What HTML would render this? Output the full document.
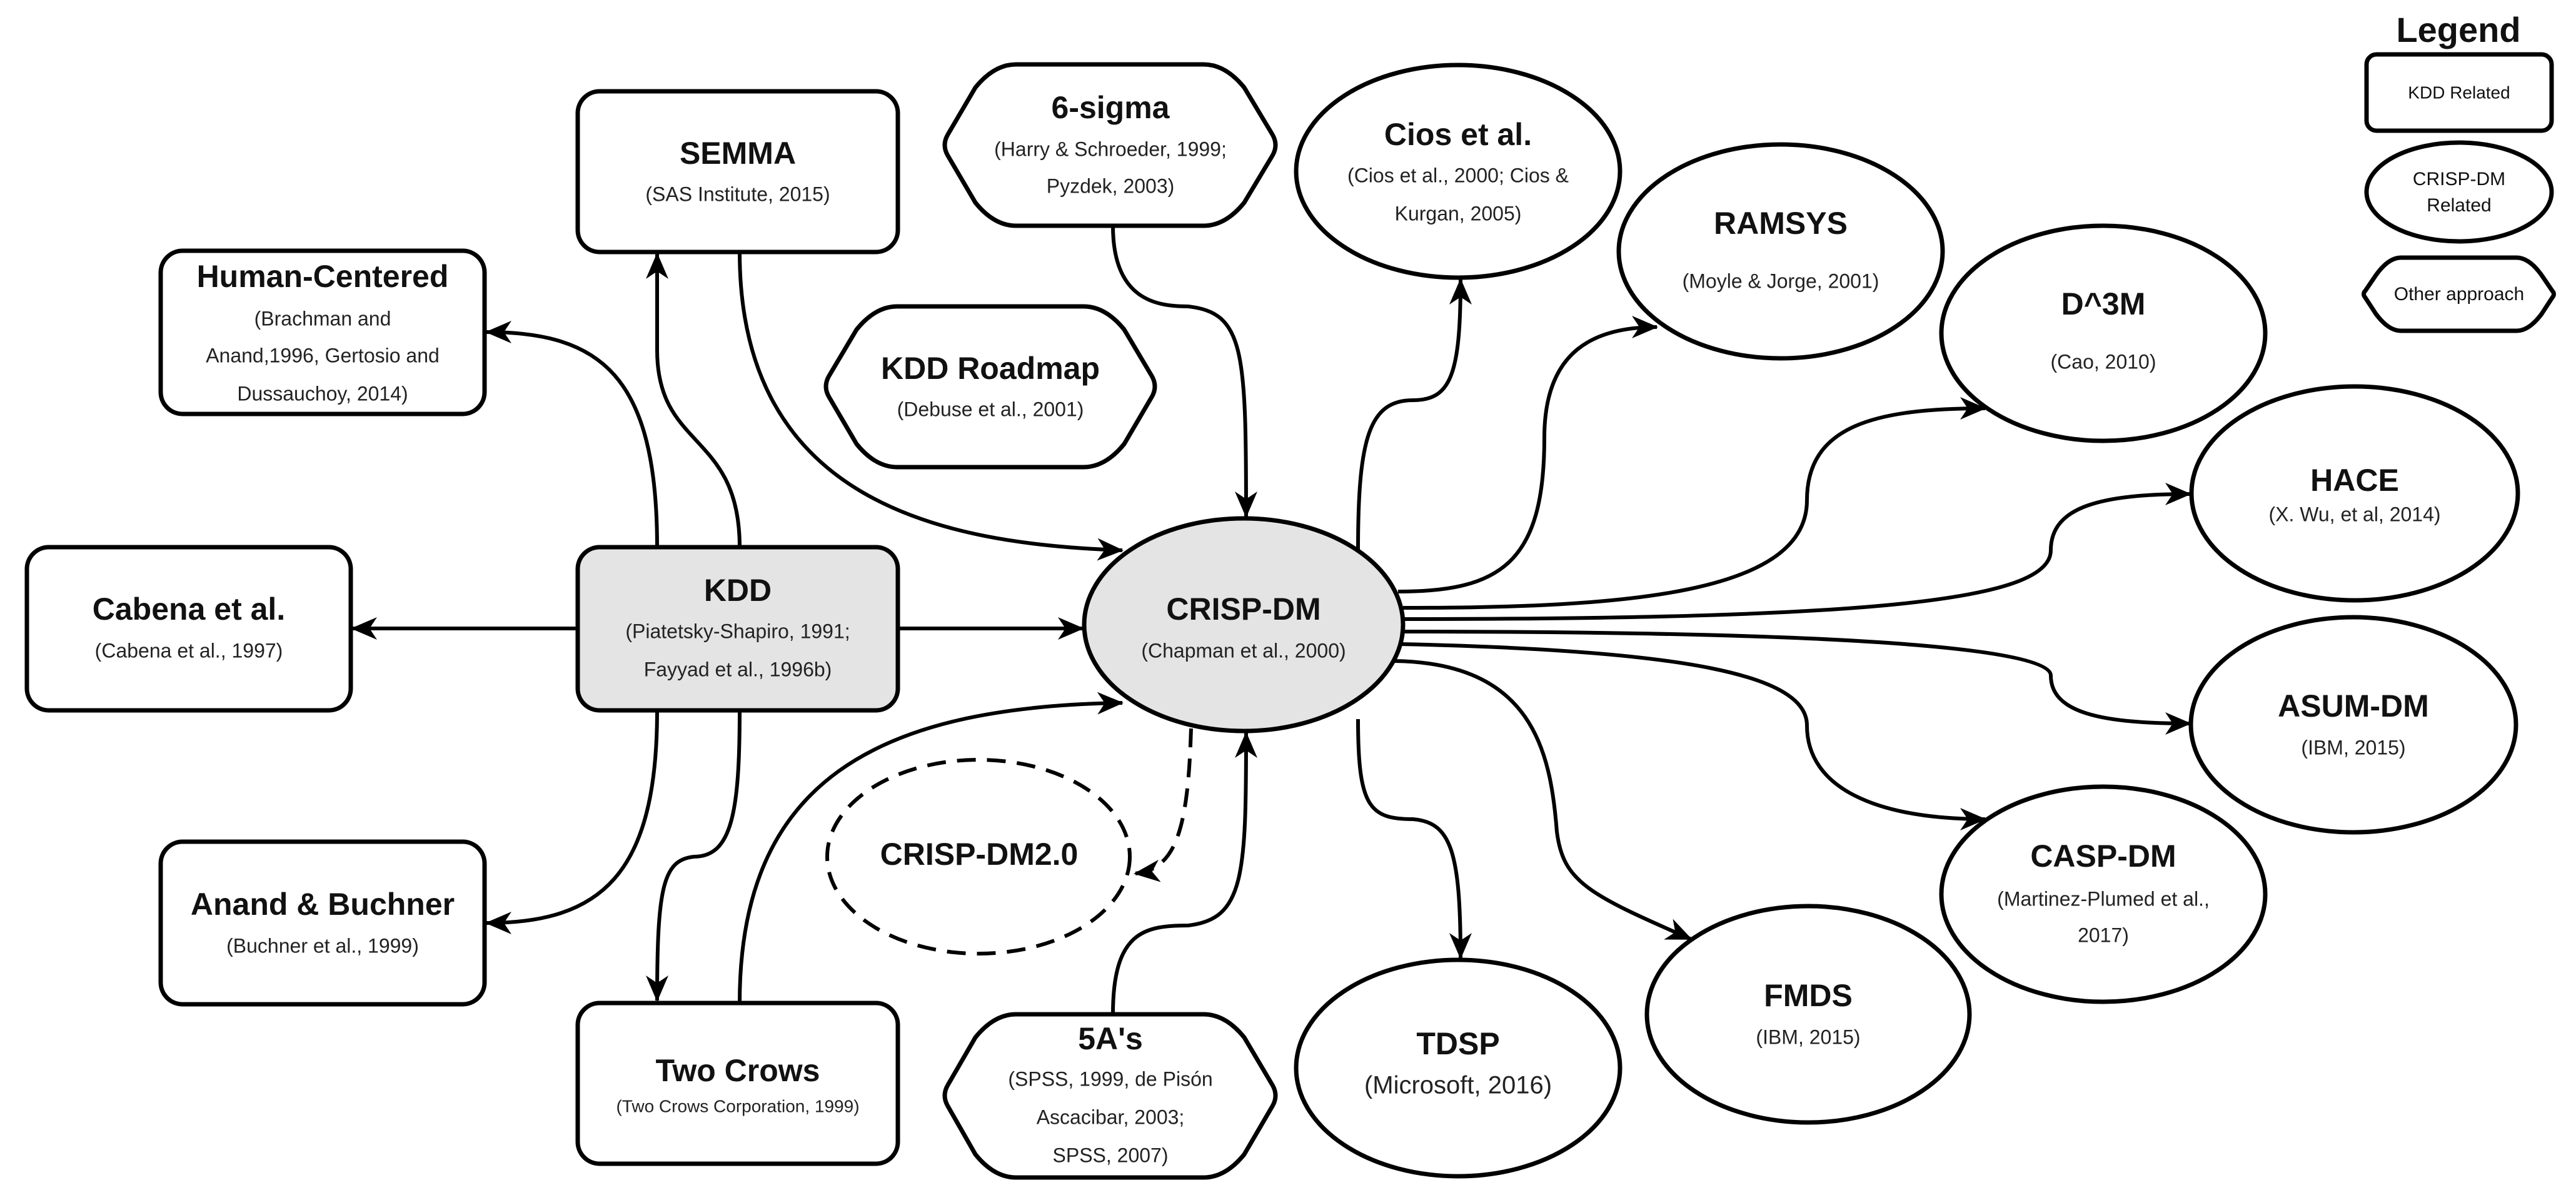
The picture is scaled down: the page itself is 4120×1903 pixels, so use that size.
<!DOCTYPE html>
<html><head><meta charset="utf-8"><style>
html,body{margin:0;padding:0;background:#fff;}
svg{display:block;}
text{font-family:"Liberation Sans",Arial,sans-serif;text-anchor:middle;dominant-baseline:middle;fill:#111;}
.t{font-weight:bold;font-size:50px;}
.s{font-size:32px;fill:#222;}
.n{fill:#fff;stroke:#000;stroke-width:7;}
.g{fill:#e4e4e4;stroke:#000;stroke-width:7;}
.e{fill:none;stroke:#000;stroke-width:6;}
</style></head><body>
<svg width="4120" height="1903" viewBox="0 0 4120 1903" xmlns="http://www.w3.org/2000/svg">
<defs>
<marker id="a" markerUnits="userSpaceOnUse" markerWidth="60" markerHeight="60" refX="40" refY="18" orient="auto">
<path d="M0,0 L42,18 L0,36 L12,18 z" fill="#000"/>
</marker>
</defs>

<g class="e" marker-end="url(#a)">
<path d="M1051,875 C1051,600 960,531 778,531"/>
<path d="M1183,875 C1183,690 1051,720 1051,560 L1051,406"/>
<path d="M1183,403 C1183,800 1500,870 1795,880"/>
<path d="M1780,361 C1780,480 1850,490 1900,490 C1990,500 1993,560 1993,826"/>
<path d="M924,1005 L563,1005"/>
<path d="M1436,1005 L1732,1005"/>
<path d="M1051,1136 C1051,1400 960,1476 778,1476"/>
<path d="M1183,1136 C1183,1300 1170,1370 1110,1370 C1060,1375 1051,1420 1051,1600"/>
<path d="M1183,1604 C1183,1250 1400,1130 1795,1124"/>
<path d="M1905,1165 C1900,1330 1880,1390 1815,1397" stroke-dasharray="30,18"/>
<path d="M1780,1622 C1780,1490 1830,1480 1900,1480 C1990,1470 1993,1400 1993,1172"/>
<path d="M2172,880 C2172,700 2190,640 2260,640 C2320,640 2336,600 2336,447"/>
<path d="M2236,946 C2400,946 2470,900 2470,700 C2470,560 2550,523 2650,523"/>
<path d="M2244,972 C2600,972 2890,950 2890,800 C2890,680 3000,653 3175,653"/>
<path d="M2244,990 C3000,990 3280,960 3280,880 C3280,810 3360,790 3503,790"/>
<path d="M2244,1010 C3000,1010 3280,1040 3280,1080 C3280,1140 3360,1157 3503,1157"/>
<path d="M2240,1030 C2700,1040 2890,1080 2890,1160 C2890,1260 3000,1310 3175,1310"/>
<path d="M2230,1057 C2450,1060 2480,1200 2490,1330 C2500,1410 2540,1430 2705,1502"/>
<path d="M2172,1150 C2172,1290 2190,1310 2260,1310 C2320,1315 2336,1360 2336,1532"/>
</g>

<rect class="n" x="924" y="146" width="512" height="257" rx="35"/>
<rect class="n" x="257" y="401" width="518" height="261" rx="35"/>
<rect class="n" x="43" y="875" width="518" height="261" rx="35"/>
<rect class="g" x="924" y="875" width="512" height="261" rx="35"/>
<rect class="n" x="257" y="1346" width="518" height="260" rx="35"/>
<rect class="n" x="924" y="1604" width="512" height="257" rx="35"/>

<path class="n" d="M1625,103 L1925,103 Q1960,103 1990,140 L2035,215 Q2045,232 2035,249 L1990,324 Q1960,361 1925,361 L1625,361 Q1590,361 1560,324 L1516,249 Q1506,232 1516,215 L1560,140 Q1590,103 1625,103 Z"/>
<path class="n" d="M1435,490 L1733,490 Q1768,490 1798,527 L1842,601 Q1852,618 1842,635 L1798,710 Q1768,747 1733,747 L1435,747 Q1400,747 1370,710 L1326,635 Q1316,618 1326,601 L1370,527 Q1400,490 1435,490 Z"/>
<path class="n" d="M1625,1622 L1925,1622 Q1960,1622 1990,1659 L2035,1735 Q2045,1752 2035,1769 L1990,1846 Q1960,1883 1925,1883 L1625,1883 Q1590,1883 1560,1846 L1516,1769 Q1506,1752 1516,1735 L1560,1659 Q1590,1622 1625,1622 Z"/>

<ellipse class="g" cx="1989" cy="999" rx="255" ry="170"/>
<ellipse class="e" cx="1565" cy="1370" rx="242" ry="155" stroke-dasharray="30,18"/>
<ellipse class="n" cx="2332" cy="274" rx="259" ry="170"/>
<ellipse class="n" cx="2848" cy="402" rx="259" ry="171"/>
<ellipse class="n" cx="3364" cy="533" rx="259" ry="172"/>
<ellipse class="n" cx="3766" cy="789" rx="261" ry="171"/>
<ellipse class="n" cx="3764" cy="1159" rx="260" ry="172"/>
<ellipse class="n" cx="3364" cy="1430" rx="259" ry="172"/>
<ellipse class="n" cx="2892" cy="1622" rx="258" ry="173"/>
<ellipse class="n" cx="2332" cy="1708" rx="259" ry="173"/>

<text x="3932" y="52" style="font-weight:bold;font-size:56px">Legend</text>
<rect class="n" x="3785" y="87" width="296" height="122" rx="16"/>
<text x="3933" y="150" style="font-size:28px">KDD Related</text>
<ellipse class="n" cx="3933" cy="307" rx="148" ry="79"/>
<text x="3933" y="288" style="font-size:30px">CRISP-DM</text>
<text x="3933" y="330" style="font-size:30px">Related</text>
<path class="n" d="M3840,412 L4025,412 Q4045,412 4065,440 L4082,465 Q4087,470 4082,476 L4065,502 Q4045,529 4025,529 L3840,529 Q3820,529 3800,502 L3783,476 Q3778,470 3783,465 L3800,440 Q3820,412 3840,412 Z"/>
<text x="3933" y="472" style="font-size:30px">Other approach</text>

<text class="t" x="1180" y="249">SEMMA</text>
<text class="s" x="1180" y="313">(SAS Institute, 2015)</text>

<text class="t" x="516" y="446">Human-Centered</text>
<text class="s" x="516" y="512">(Brachman and</text>
<text class="s" x="516" y="571">Anand,1996, Gertosio and</text>
<text class="s" x="516" y="632">Dussauchoy, 2014)</text>

<text class="t" x="302" y="978">Cabena et al.</text>
<text class="s" x="302" y="1043">(Cabena et al., 1997)</text>

<text class="t" x="1180" y="948">KDD</text>
<text class="s" x="1180" y="1012">(Piatetsky-Shapiro, 1991;</text>
<text class="s" x="1180" y="1073">Fayyad et al., 1996b)</text>

<text class="t" x="516" y="1450">Anand &amp; Buchner</text>
<text class="s" x="516" y="1515">(Buchner et al., 1999)</text>

<text class="t" x="1180" y="1716">Two Crows</text>
<text class="s" x="1180" y="1771" style="font-size:28px">(Two Crows Corporation, 1999)</text>

<text class="t" x="1776" y="176">6-sigma</text>
<text class="s" x="1776" y="241">(Harry &amp; Schroeder, 1999;</text>
<text class="s" x="1776" y="300">Pyzdek, 2003)</text>

<text class="t" x="1584" y="593">KDD Roadmap</text>
<text class="s" x="1584" y="657">(Debuse et al., 2001)</text>

<text class="t" x="1989" y="978">CRISP-DM</text>
<text class="s" x="1989" y="1043">(Chapman et al., 2000)</text>

<text class="t" x="1566" y="1370">CRISP-DM2.0</text>

<text class="t" x="1776" y="1665">5A's</text>
<text class="s" x="1776" y="1728">(SPSS, 1999, de Pisón</text>
<text class="s" x="1776" y="1789">Ascacibar, 2003;</text>
<text class="s" x="1776" y="1850">SPSS, 2007)</text>

<text class="t" x="2332" y="219">Cios et al.</text>
<text class="s" x="2332" y="283">(Cios et al., 2000; Cios &amp;</text>
<text class="s" x="2332" y="344">Kurgan, 2005)</text>

<text class="t" x="2848" y="361">RAMSYS</text>
<text class="s" x="2848" y="452">(Moyle &amp; Jorge, 2001)</text>

<text class="t" x="3364" y="490">D^3M</text>
<text class="s" x="3364" y="581">(Cao, 2010)</text>

<text class="t" x="3766" y="772">HACE</text>
<text class="s" x="3766" y="825">(X. Wu, et al, 2014)</text>

<text class="t" x="3764" y="1133">ASUM-DM</text>
<text class="s" x="3764" y="1198">(IBM, 2015)</text>

<text class="t" x="3364" y="1373">CASP-DM</text>
<text class="s" x="3364" y="1440">(Martinez-Plumed et al.,</text>
<text class="s" x="3364" y="1498">2017)</text>

<text class="t" x="2892" y="1596">FMDS</text>
<text class="s" x="2892" y="1661">(IBM, 2015)</text>

<text class="t" x="2332" y="1673">TDSP</text>
<text class="s" x="2332" y="1738" style="font-size:40px">(Microsoft, 2016)</text>
</svg>
</body></html>
